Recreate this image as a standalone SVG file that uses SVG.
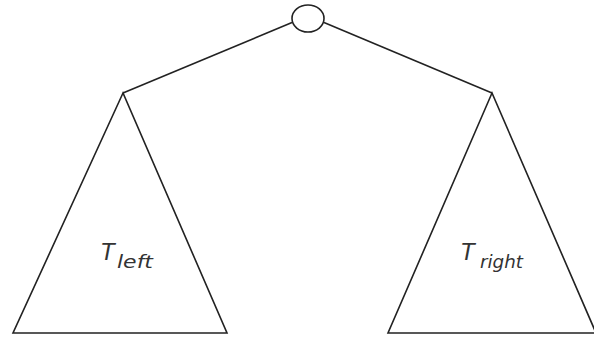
<svg xmlns="http://www.w3.org/2000/svg" width="594" height="338" viewBox="0 0 594 338">
<style>
.ln{fill:none;stroke:#222;stroke-width:1.6;stroke-linejoin:miter}
.T{font-family:"Liberation Sans",Arial,sans-serif;font-style:italic;fill:#333;font-size:24px}
.s{font-family:"DejaVu Sans",sans-serif;font-size:18px}
</style>
<rect width="594" height="338" fill="#fff"/>
<g id="connectors">
<line class="ln" x1="292" y1="22.5" x2="123" y2="93"/>
<line class="ln" x1="324" y1="22.5" x2="492" y2="93"/>
</g>
<g id="root">
<ellipse class="ln" cx="308" cy="18.5" rx="16" ry="13.5"/>
</g>
<g id="left-subtree">
<polygon class="ln" points="123,93 13,333 227,333"/>
<text class="T" x="100" y="260">T<tspan class="s" x="117" y="268" textLength="36" lengthAdjust="spacingAndGlyphs">left</tspan></text>
</g>
<g id="right-subtree">
<polygon class="ln" points="492,93 388,333 596,333"/>
<text class="T" x="460" y="260">T<tspan class="s" x="480" y="268" textLength="43" lengthAdjust="spacingAndGlyphs">right</tspan></text>
</g>
</svg>
